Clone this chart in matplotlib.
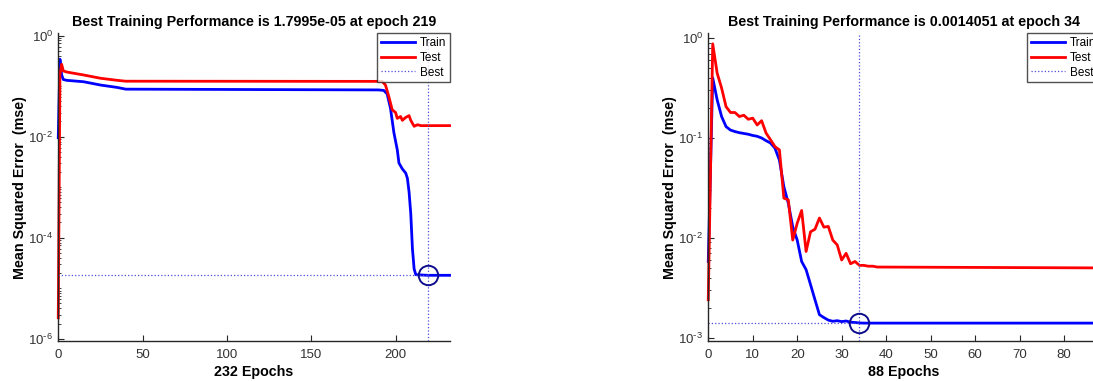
import matplotlib
matplotlib.use('Agg')
import matplotlib.pyplot as plt
from matplotlib.ticker import LogLocator, FixedLocator, NullFormatter, FuncFormatter
import math

plt.rcParams['font.family'] = ['Liberation Sans', 'DejaVu Sans']
plt.rcParams['axes.unicode_minus'] = False
plt.rcParams['mathtext.default'] = 'regular'

# run 1: 232 epochs
train1_ep = [0, 1, 2, 3, 5, 15, 25, 35, 40, 190, 193, 195, 197, 199, 201, 202,
             204, 206, 207, 208, 209, 210, 211, 212, 219, 232]
train1_mse = [0.0095, 0.34, 0.166, 0.135, 0.13, 0.122, 0.105, 0.094, 0.087, 0.084,
              0.082, 0.07, 0.036, 0.012, 0.0055, 0.003, 0.0023, 0.0019, 0.0015,
              0.0008, 0.0003, 6e-5, 2.4e-5, 1.85e-5, 1.7995e-5, 1.7995e-5]
test1_ep = [0, 1, 2, 3, 5, 15, 25, 35, 40, 192, 194, 196, 198, 200, 201, 203,
            204, 206, 208, 209, 211, 213, 215, 232]
test1_mse = [2.6e-6, 0.17, 0.27, 0.2, 0.19, 0.166, 0.143, 0.13, 0.125, 0.124,
             0.105, 0.062, 0.034, 0.03, 0.023, 0.025, 0.021, 0.024, 0.026, 0.021,
             0.016, 0.0172, 0.0165, 0.0165]
best1_ep = 219
best1_mse = 1.7995e-05
n_epochs1 = 232

# run 2: 88 epochs
train2_ep = list(range(0, 39)) + [88]
train2_mse = [0.0058, 0.40, 0.241, 0.164, 0.13, 0.12, 0.116, 0.113, 0.111, 0.109,
              0.106, 0.104, 0.100, 0.094, 0.089, 0.079, 0.060, 0.0326, 0.0222,
              0.0129, 0.0095, 0.0058, 0.0048, 0.0034, 0.0024, 0.0017, 0.00159,
              0.0015, 0.00146, 0.00148, 0.00145, 0.00147, 0.00143, 0.00142,
              0.0014051, 0.00140, 0.00140, 0.00140, 0.00140, 0.00140]
test2_ep = list(range(0, 39)) + [88]
test2_mse = [0.0024, 0.877, 0.446, 0.316, 0.206, 0.18, 0.18, 0.164, 0.169, 0.154,
             0.158, 0.135, 0.149, 0.112, 0.096, 0.082, 0.076, 0.025, 0.024, 0.0095,
             0.014, 0.0188, 0.0073, 0.0115, 0.0122, 0.0158, 0.0128, 0.013, 0.0095,
             0.0085, 0.006, 0.007, 0.0055, 0.0058, 0.0053, 0.0053, 0.0052, 0.0052,
             0.0051, 0.0050]
best2_ep = 34
best2_mse = 0.0014051
n_epochs2 = 88

AXC = '0.15'
BEST_C = (0.3, 0.3, 0.85)


def pow10_label(v, pos):
    # plain hyphen in the exponent, like 10^-2
    e = int(round(math.log10(v)))
    if e < 0:
        return r'$10^{\text{-}%d}$' % (-e)
    return r'$10^{%d}$' % e


def perf_plot(ax, tr_ep, tr, te_ep, te, best_ep, best_val, n_ep, ylog, yticks, title):
    ax.plot(tr_ep, tr, color=(0, 0, 1), lw=2, label='Train', clip_on=False)
    ax.plot(te_ep, te, color=(1, 0, 0), lw=2, label='Test', clip_on=False)
    ax.axvline(best_ep, color=BEST_C, ls=':', lw=0.9)
    ax.plot([0, best_ep], [best_val, best_val], color=BEST_C, ls=':',
            lw=0.9, label='Best')
    ax.plot([best_ep], [best_val], 'o', ms=14, mfc='none', mec=(0.05, 0.05, 0.55),
            mew=1.4, zorder=5)

    ax.set_yscale('log')
    ax.set_xlim(0, n_ep)
    ax.set_ylim(10 ** ylog[0], 10 ** ylog[1])
    ax.yaxis.set_major_locator(FixedLocator(yticks))
    ax.yaxis.set_major_formatter(FuncFormatter(pow10_label))
    ax.yaxis.set_minor_locator(LogLocator(base=10, subs=range(1, 10), numticks=20))
    ax.yaxis.set_minor_formatter(NullFormatter())

    for s in ['top', 'right']:
        ax.spines[s].set_visible(False)
    for s in ['left', 'bottom']:
        ax.spines[s].set_color(AXC)
        ax.spines[s].set_linewidth(1.0)
    ax.tick_params(which='both', direction='in', colors=AXC, labelsize=9.5,
                   labelcolor='0.2')
    ax.tick_params(which='major', length=4.5, width=0.8)
    ax.tick_params(which='minor', length=2.5, width=0.6)
    ax.tick_params(axis='x', pad=6)

    ax.set_title(title, fontsize=10.3, fontweight='bold', pad=5)
    ax.set_xlabel('{} Epochs'.format(n_ep), fontsize=10.3, fontweight='bold',
                  labelpad=3)
    ax.set_ylabel('Mean Squared Error  (mse)', fontsize=10.3, fontweight='bold',
                  labelpad=1)

    leg = ax.legend(loc='upper right', fontsize=8.5, frameon=True, fancybox=False,
                    borderaxespad=0, handlelength=2.9, handletextpad=0.4,
                    labelspacing=0.25, borderpad=0.3)
    leg.get_frame().set_edgecolor(AXC)
    leg.get_frame().set_linewidth(1.0)


fig = plt.figure(figsize=(10.93, 3.81), dpi=100)
ax1 = fig.add_axes([0.0533, 0.105, 0.358, 0.808])
ax2 = fig.add_axes([0.648, 0.105, 0.358, 0.808])

perf_plot(ax1, train1_ep, train1_mse, test1_ep, test1_mse, best1_ep, best1_mse,
          n_epochs1, (-6.045, 0.048), [1e-6, 1e-4, 1e-2, 1],
          'Best Training Performance is 1.7995e-05 at epoch 219')
ax1.set_xticks([0, 50, 100, 150, 200])

perf_plot(ax2, train2_ep, train2_mse, test2_ep, test2_mse, best2_ep, best2_mse,
          n_epochs2, (-3.033, 0.05), [1e-3, 1e-2, 1e-1, 1],
          'Best Training Performance is 0.0014051 at epoch 34')
ax2.set_xticks(range(0, 90, 10))

fig.savefig('out.png', dpi=100)
